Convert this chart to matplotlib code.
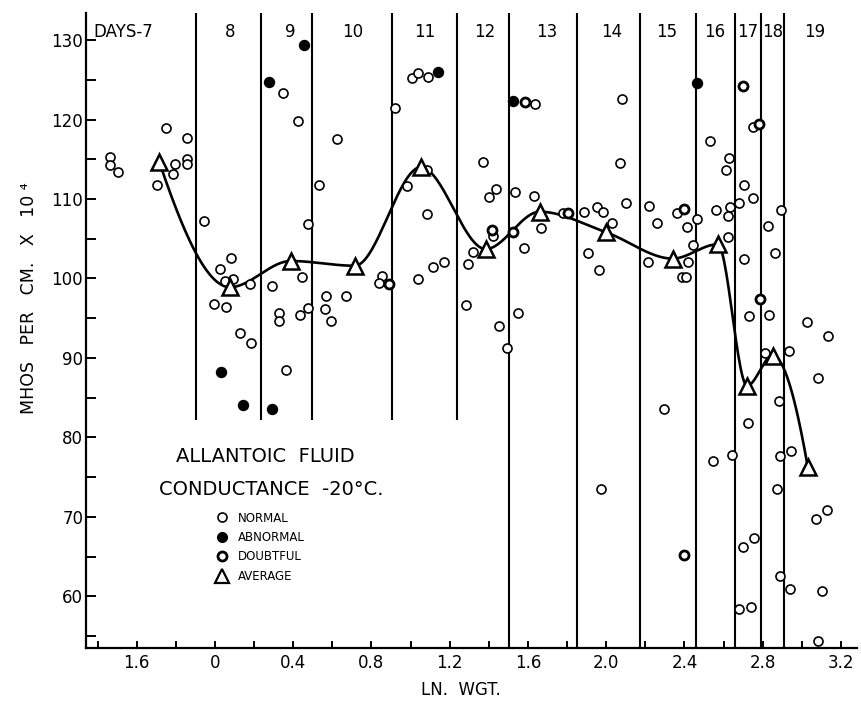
import matplotlib
matplotlib.use("Agg")
import matplotlib.pyplot as plt
from matplotlib.lines import Line2D
import numpy as np

# ---- data ----
normal_x = [-0.536, -0.536, -0.496, -0.250, -0.143, -0.296, -0.215, -0.204, -0.143, -0.143,
            0.347, 0.424, 0.531, 0.623, 0.920, 1.006, 1.037, 1.088, 0.981, 1.083,
            -0.056, 0.026, 0.082, 0.051, 0.092, 0.179, -0.005, 0.056, 0.128, 0.184,
            0.291, 0.327, 0.327, 0.363, 0.434, 0.475, 0.444, 0.475, 0.567, 0.562,
            0.593, 0.669, 0.853, 0.838, 1.037, 1.114, 1.170, 1.083, 1.292, 1.318,
            1.282, 1.451, 1.492, 1.400, 1.436, 1.420, 1.369, 1.533, 1.630, 1.665,
            1.579, 1.548, 1.635, 1.778, 1.885, 1.951, 1.982, 2.100, 2.028, 1.906,
            1.962, 2.079, 2.069, 1.972, 2.217, 2.258, 2.212, 2.294, 2.360, 2.411,
            2.462, 2.442, 2.416, 2.386, 2.406, 2.529, 2.626, 2.610, 2.559, 2.631,
            2.621, 2.677, 2.621, 2.702, 2.748, 2.702, 2.825, 2.891, 2.861, 2.728,
            2.830, 2.810, 2.881, 2.723, 2.932, 3.024, 3.132, 3.080, 2.748, 2.544,
            2.641, 2.697, 2.754, 2.677, 2.738, 2.871, 2.886, 2.943, 2.886, 2.937,
            3.070, 3.126, 3.101, 3.080]
normal_y = [115.3, 114.3, 113.4, 118.9, 117.7, 111.8, 113.1, 114.4, 115.0, 114.4,
            123.3, 119.8, 111.8, 117.5, 121.4, 125.2, 125.8, 125.3, 111.6, 113.6,
            107.2, 101.2, 102.6, 99.7, 99.9, 99.3, 96.8, 96.4, 93.1, 91.9,
            99.1, 95.7, 94.7, 88.5, 95.4, 96.3, 100.2, 106.9, 97.8, 96.2,
            94.7, 97.8, 100.3, 99.4, 99.9, 101.4, 102.1, 108.1, 101.8, 103.3,
            96.7, 94.0, 91.3, 110.3, 111.3, 105.3, 114.7, 110.9, 110.4, 106.4,
            103.8, 95.7, 122.0, 108.2, 108.4, 109.0, 108.4, 109.5, 107.0, 103.2,
            101.1, 122.6, 114.5, 73.5, 109.1, 107.0, 102.1, 83.6, 108.2, 106.5,
            107.5, 104.2, 102.1, 100.2, 100.2, 117.3, 115.2, 113.6, 108.6, 109.0,
            107.9, 109.5, 105.2, 111.8, 110.1, 102.5, 106.6, 108.6, 103.2, 95.3,
            95.4, 90.6, 84.6, 81.8, 90.9, 94.5, 92.8, 87.5, 119.1, 77.0,
            77.8, 66.2, 67.4, 58.4, 58.6, 73.5, 77.7, 78.3, 62.6, 60.9,
            69.7, 70.9, 60.7, 54.4]

abnormal_x = [0.276, 0.455, 1.139, 0.031, 0.143, 0.291, 1.522, 2.462]
abnormal_y = [124.7, 129.4, 126.0, 88.2, 84.1, 83.6, 122.3, 124.6]

doubtful_x = [0.889, 1.415, 1.522, 1.803, 2.396, 2.784, 2.396, 1.584, 2.697, 2.779]
doubtful_y = [99.3, 106.1, 105.8, 108.2, 108.7, 97.4, 65.2, 122.2, 124.2, 119.4]

avg_x = [-0.285, 0.077, 0.388, 0.715, 1.052, 1.384, 1.66, 2.0, 2.34, 2.57, 2.72, 2.85, 3.03]
avg_y = [114.7, 98.9, 102.2, 101.6, 114.0, 103.7, 108.4, 105.8, 102.5, 104.3, 86.5, 90.3, 76.3]

# day boundaries (first five stop short of the bottom)
day_bounds = [-0.097, 0.235, 0.496, 0.904, 1.236, 1.502, 1.849, 2.171, 2.457, 2.656, 2.789, 2.907]
short_bounds = 5
day_labels = ["DAYS-7", "8", "9", "10", "11", "12", "13", "14", "15", "16", "17", "18", "19"]
day_label_x = [-0.623, 0.077, 0.383, 0.705, 1.073, 1.379, 1.696, 2.028, 2.309, 2.554, 2.723, 2.851, 3.064]

xticks = [-0.4, 0.0, 0.4, 0.8, 1.2, 1.6, 2.0, 2.4, 2.8, 3.2]
xtick_labels = ["1.6", "0", "0.4", "0.8", "1.2", "1.6", "2.0", "2.4", "2.8", "3.2"]
yticks = [60, 70, 80, 90, 100, 110, 120, 130]


def pchip(x, y, xs):
    """monotone cubic through the averages (hand-drawn look)"""
    x = np.asarray(x, float)
    y = np.asarray(y, float)
    h = np.diff(x)
    d = np.diff(y) / h
    n = len(x)
    m = np.zeros(n)
    for k in range(1, n - 1):
        if d[k - 1] * d[k] > 0:
            w1 = 2 * h[k] + h[k - 1]
            w2 = h[k] + 2 * h[k - 1]
            m[k] = (w1 + w2) / (w1 / d[k - 1] + w2 / d[k])

    def end(h0, h1, d0, d1):
        s = ((2 * h0 + h1) * d0 - h0 * d1) / (h0 + h1)
        if np.sign(s) != np.sign(d0):
            return 0.0
        if np.sign(d0) != np.sign(d1) and abs(s) > abs(3 * d0):
            return 3 * d0
        return s

    m[0] = end(h[0], h[1], d[0], d[1])
    m[-1] = end(h[-1], h[-2], d[-1], d[-2])
    idx = np.clip(np.searchsorted(x, xs) - 1, 0, n - 2)
    t = (xs - x[idx]) / h[idx]
    h00 = 2 * t**3 - 3 * t**2 + 1
    h10 = t**3 - 2 * t**2 + t
    h01 = -2 * t**3 + 3 * t**2
    h11 = t**3 - t**2
    return h00 * y[idx] + h10 * h[idx] * m[idx] + h01 * y[idx + 1] + h11 * h[idx] * m[idx + 1]


fig = plt.figure(figsize=(8.62, 7.04), dpi=100)
ax = fig.add_axes([0.0998, 0.0795, 0.894, 0.902])

ymin, ymax = 53.5, 133.4
ax.set_xlim(-0.659, 3.28)
ax.set_ylim(ymin, ymax)

# day separators
ax.vlines(day_bounds[:short_bounds], 82.2, ymax, color="black", lw=1.5)
ax.vlines(day_bounds[short_bounds:], ymin, ymax, color="black", lw=1.5)
for lab, xx in zip(day_labels, day_label_x):
    ax.text(xx, 131.0, lab, fontsize=12, ha="left" if lab.startswith("DAYS") else "center",
            va="center")

# average curve
xs = np.linspace(avg_x[0], avg_x[-1], 600)
ax.plot(xs, pchip(avg_x, avg_y, xs), color="black", lw=1.9, zorder=3)

# points
ax.plot(normal_x, normal_y, "o", ms=6.5, mfc="white", mec="black", mew=1.2, zorder=4)
ax.plot(abnormal_x, abnormal_y, "o", ms=7, mfc="black", mec="black", mew=1.2, zorder=4)
ax.plot(doubtful_x, doubtful_y, "o", ms=6.5, mfc="white", mec="black", mew=2.0, zorder=4)
ax.plot(avg_x, avg_y, "^", ms=12, mfc="white", mec="black", mew=1.8, zorder=5)

# axes styling
for s in ["top", "right"]:
    ax.spines[s].set_visible(False)
for s in ["left", "bottom"]:
    ax.spines[s].set_linewidth(1.6)
ax.set_xticks(xticks)
ax.set_xticklabels(xtick_labels, fontsize=12)
ax.set_xticks(np.arange(-0.6, 3.21, 0.2), minor=True)
ax.set_yticks(yticks)
ax.set_yticklabels([str(v) for v in yticks], fontsize=12)
ax.set_yticks(np.arange(55, 131, 5), minor=True)
ax.tick_params(axis="y", which="both", direction="in", length=7, width=1.4, pad=2)
ax.tick_params(axis="x", which="both", direction="in", length=5, width=1.4, pad=4)

ax.set_xlabel("LN.  WGT.", fontsize=12)
ax.xaxis.set_label_coords(0.486, -0.052)
ax.set_ylabel("MHOS   PER   CM.   X   10 \u2074", fontsize=12.5)
ax.yaxis.set_label_coords(-0.062, 0.551)

ax.text(0.233, 0.301, "ALLANTOIC  FLUID", transform=ax.transAxes, fontsize=14,
        ha="center", va="center")
ax.text(0.241, 0.249, "CONDUCTANCE  -20\u00b0C.", transform=ax.transAxes, fontsize=14,
        ha="center", va="center")

handles = [
    Line2D([], [], ls="", marker="o", ms=6.5, mfc="white", mec="black", mew=1.2),
    Line2D([], [], ls="", marker="o", ms=7, mfc="black", mec="black"),
    Line2D([], [], ls="", marker="o", ms=6.5, mfc="white", mec="black", mew=2.0),
    Line2D([], [], ls="", marker="^", ms=10, mfc="white", mec="black", mew=1.6),
]
ax.legend(handles, ["NORMAL", "ABNORMAL", "DOUBTFUL", "AVERAGE"], loc="upper left",
          bbox_to_anchor=(0.169, 0.215), frameon=False, fontsize=8.5, handlelength=1.0,
          handletextpad=0.8, labelspacing=0.55, borderpad=0, borderaxespad=0)

fig.savefig("out.png", dpi=100)
